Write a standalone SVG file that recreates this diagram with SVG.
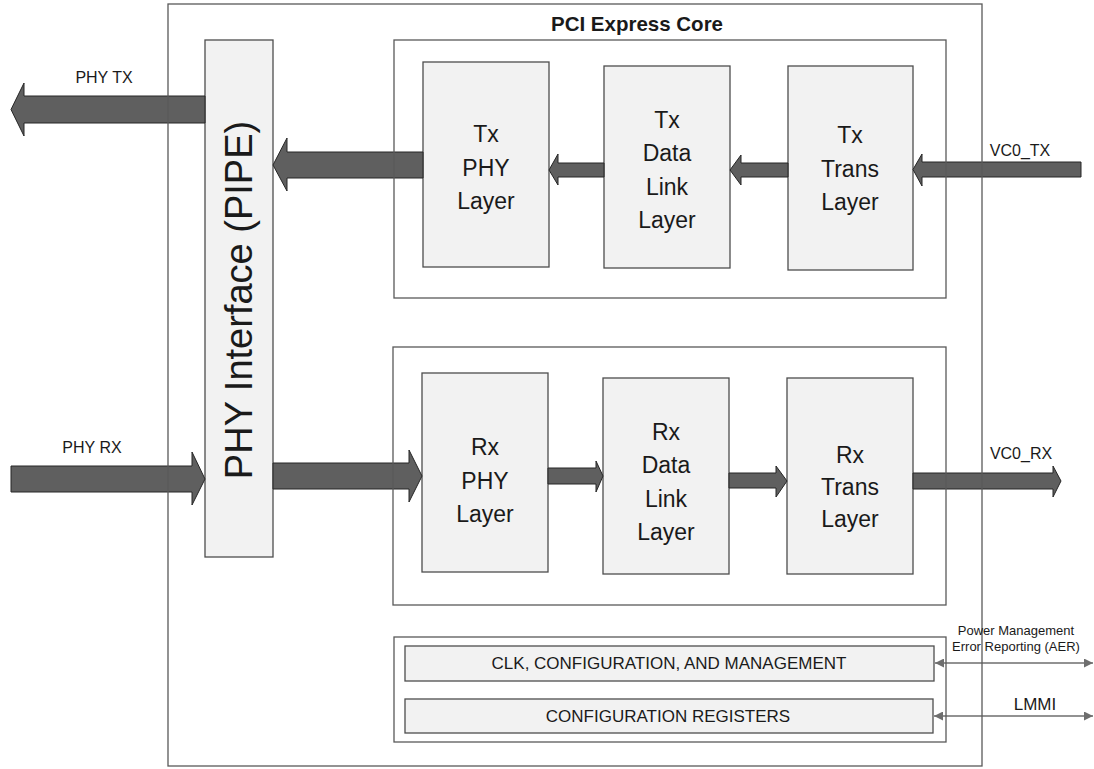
<svg xmlns="http://www.w3.org/2000/svg" width="1094" height="769" viewBox="0 0 1094 769">
<defs>
<style>
.frame{fill:none;stroke:#595959;stroke-width:1.3}
.blk{fill:#f2f2f2;stroke:#4d4d4d;stroke-width:1.3}
.arr{fill:#5f5f5f;stroke:#262626;stroke-width:1}
.t{font-family:"Liberation Sans",Arial,sans-serif;fill:#1a1a1a}
.lay{font-size:23px;text-anchor:middle}
.lbl{font-size:16px;text-anchor:middle}
.sm{font-size:13px;text-anchor:middle}
.mg{font-size:17px;text-anchor:middle}
.thin{stroke:#6e6e6e;stroke-width:1.6;fill:none}
</style>
<marker id="ah" viewBox="0 0 10 10" refX="10" refY="5" markerWidth="13" markerHeight="9" markerUnits="userSpaceOnUse" orient="auto-start-reverse">
<path d="M0,0 L10,5 L0,10 z" fill="#6e6e6e"/>
</marker>
</defs>
<rect width="1094" height="769" fill="#ffffff"/>

<g id="pif">
<rect class="blk" x="205" y="40" width="68" height="517"/>
<text class="t" font-size="38" text-anchor="middle" transform="translate(252,300) rotate(-90)">PHY Interface (PIPE)</text>
</g>

<g id="tx-phy"><rect class="blk" x="423" y="62" width="126" height="205"/>
<text class="t lay" x="486" y="142">Tx</text><text class="t lay" x="486" y="176">PHY</text><text class="t lay" x="486" y="209">Layer</text></g>
<g id="tx-dl"><rect class="blk" x="604" y="66" width="126" height="202"/>
<text class="t lay" x="667" y="128">Tx</text><text class="t lay" x="667" y="161">Data</text><text class="t lay" x="667" y="195">Link</text><text class="t lay" x="667" y="228">Layer</text></g>
<g id="tx-trans"><rect class="blk" x="788" y="66" width="125" height="204"/>
<text class="t lay" x="850" y="143">Tx</text><text class="t lay" x="850" y="177">Trans</text><text class="t lay" x="850" y="210">Layer</text></g>

<g id="rx-phy"><rect class="blk" x="422" y="373" width="126" height="199"/>
<text class="t lay" x="485" y="455">Rx</text><text class="t lay" x="485" y="489">PHY</text><text class="t lay" x="485" y="522">Layer</text></g>
<g id="rx-dl"><rect class="blk" x="603" y="378" width="126" height="196"/>
<text class="t lay" x="666" y="440">Rx</text><text class="t lay" x="666" y="473">Data</text><text class="t lay" x="666" y="507">Link</text><text class="t lay" x="666" y="540">Layer</text></g>
<g id="rx-trans"><rect class="blk" x="787" y="378" width="126" height="196"/>
<text class="t lay" x="850" y="463">Rx</text><text class="t lay" x="850" y="495">Trans</text><text class="t lay" x="850" y="527">Layer</text></g>

<g id="clk-mgmt"><rect class="blk" x="405" y="646" width="529" height="35"/>
<text class="t mg" x="669" y="669">CLK, CONFIGURATION, AND MANAGEMENT</text></g>
<g id="cfg-regs"><rect class="blk" x="405" y="699" width="528" height="34"/>
<text class="t mg" x="668" y="722">CONFIGURATION REGISTERS</text></g>

<g id="connectors">
<polygon class="arr" points="205,96 24,96 24,83 11,109.5 24,136 24,123 205,123"/>
<polygon class="arr" points="423,152 287,152 287,138 273,165 287,191 287,178 423,178"/>
<polygon class="arr" points="604,163 558,163 558,154 549,170 558,185 558,177 604,177"/>
<polygon class="arr" points="788,163 741,163 741,155 730,170 741,185 741,177 788,177"/>
<polygon class="arr" points="1081,162 922,162 922,154 913,169.5 922,186 922,177 1081,177"/>
<polygon class="arr" points="11,466 192,466 192,452 205,479 192,505 192,492 11,492"/>
<polygon class="arr" points="273,463 409,463 409,450 422,476 409,502 409,489 273,489"/>
<polygon class="arr" points="548,468 596,468 596,461 603,476 596,492 596,484 548,484"/>
<polygon class="arr" points="729,473 776,473 776,466 787,481 776,497 776,488 729,488"/>
<polygon class="arr" points="913,473 1053,473 1053,466 1061,481 1053,497 1053,489 913,489"/>
<line class="thin" x1="935" y1="663" x2="1093" y2="663" marker-start="url(#ah)" marker-end="url(#ah)"/>
<line class="thin" x1="934" y1="716" x2="1093" y2="716" marker-start="url(#ah)" marker-end="url(#ah)"/>
</g>

<g id="core">
<rect class="frame" x="168" y="4" width="814" height="762"/>
<text class="t" font-size="20.5" font-weight="bold" text-anchor="middle" x="637" y="31">PCI Express Core</text>
</g>
<g id="tx-group"><rect class="frame" x="394" y="40" width="552" height="258"/></g>
<g id="rx-group"><rect class="frame" x="393" y="347" width="553" height="258"/></g>
<g id="mgmt-group"><rect class="frame" x="394" y="637" width="552" height="105"/></g>

<g id="labels">
<text class="t lbl" x="104" y="83">PHY TX</text>
<text class="t lbl" x="92" y="453">PHY RX</text>
<text class="t lbl" x="1020" y="156">VC0_TX</text>
<text class="t lbl" x="1021" y="459">VC0_RX</text>
<text class="t sm" x="1016" y="635">Power Management</text>
<text class="t sm" x="1016" y="651">Error Reporting (AER)</text>
<text class="t" font-size="17" text-anchor="middle" x="1035" y="710">LMMI</text>
</g>
</svg>
